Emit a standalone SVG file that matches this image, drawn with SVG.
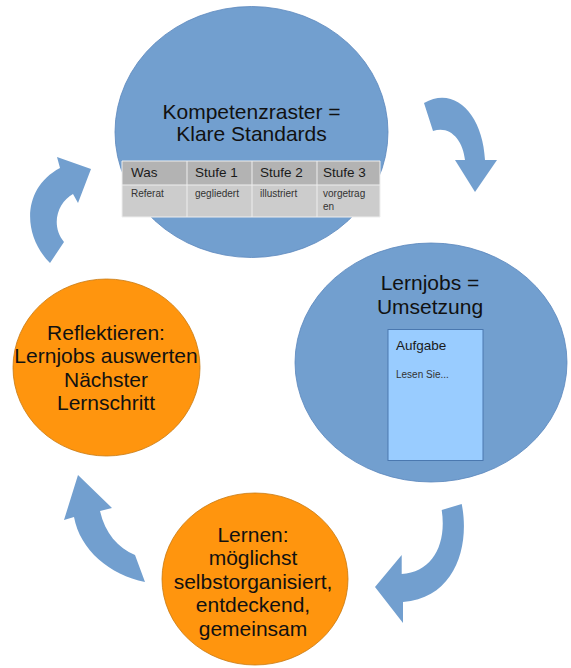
<svg xmlns="http://www.w3.org/2000/svg" width="571" height="668" viewBox="0 0 571 668">
<style>
.blue{fill:#729fcf;stroke:#5b87bd;stroke-width:0.8}
.orange{fill:#ff950e;stroke:#c8780f;stroke-width:0.8}
.arrow{fill:#729fcf;stroke:none}
.t{font-family:"Liberation Sans",Arial,sans-serif;fill:#111;text-anchor:middle;font-size:21px}
.th{font-family:"Liberation Sans",Arial,sans-serif;fill:#1a1a1a;font-size:13.5px}
.td{font-family:"Liberation Sans",Arial,sans-serif;fill:#333;font-size:10px}
.hdr{fill:#b3b3b3}
.body{fill:#cccccc}
.grid{stroke:#eeeeee;stroke-width:1;fill:none}
</style>
<rect width="571" height="668" fill="#ffffff"/>
<g id="kompetenzraster">
<ellipse class="blue" cx="251.5" cy="132" rx="136.5" ry="125.5"/>
<text class="t" x="251.5" y="119">Kompetenzraster =</text>
<text class="t" x="251.5" y="141">Klare Standards</text>
<g id="tabelle">
<rect class="hdr" x="122" y="161" width="258" height="24"/>
<rect class="body" x="122" y="185" width="258" height="32"/>
<path class="grid" d="M122,161H380V217H122Z M122,185H380 M187,161V217 M252,161V217 M317,161V217"/>
<text class="th" x="131" y="177">Was</text>
<text class="th" x="195" y="177">Stufe 1</text>
<text class="th" x="260" y="177">Stufe 2</text>
<text class="th" x="323" y="177">Stufe 3</text>
<text class="td" x="131" y="197">Referat</text>
<text class="td" x="195" y="197">gegliedert</text>
<text class="td" x="260" y="197">illustriert</text>
<text class="td" x="323" y="197">vorgetrag</text>
<text class="td" x="323" y="210">en</text>
</g>
</g>
<g id="lernjobs">
<ellipse class="blue" cx="431" cy="362.5" rx="136" ry="119.5"/>
<text class="t" x="430" y="290">Lernjobs =</text>
<text class="t" x="430" y="314">Umsetzung</text>
<rect x="388" y="329.5" width="95" height="131" fill="#99ccff" stroke="#4a78b0" stroke-width="1"/>
<text class="th" x="396" y="350">Aufgabe</text>
<text class="td" x="396" y="378">Lesen Sie...</text>
</g>
<g id="lernen">
<ellipse class="orange" cx="255" cy="579" rx="93" ry="86"/>
<text class="t" x="253" y="542">Lernen:</text>
<text class="t" x="253" y="565">möglichst</text>
<text class="t" x="253" y="588.5">selbstorganisiert,</text>
<text class="t" x="253" y="612">entdeckend,</text>
<text class="t" x="253" y="635.5">gemeinsam</text>
</g>
<g id="reflektieren">
<ellipse class="orange" cx="106.5" cy="367.5" rx="93.5" ry="88.5"/>
<text class="t" x="106" y="339.5">Reflektieren:</text>
<text class="t" x="106" y="363">Lernjobs auswerten</text>
<text class="t" x="106" y="386.5">Nächster</text>
<text class="t" x="106" y="410">Lernschritt</text>
</g>
<g id="connectors">
<path class="arrow" d="M424,103 C455,85 483,115 485,160 L497,160 L475,192 L455,160 L465,160 C463,140 450,125 433,131 Z"/>
<path class="arrow" d="M441.7,510 L461.7,504 C470,545 456,598 403,602 L403,623 L375,587 L401.7,555 L401.7,574 C432,572 447,545 441.7,510 Z"/>
<path class="arrow" d="M145,582 C110,575 80,550 74,517 L64,520 L78,475 L112,508 L100,511 C105,533 118,548 135,555 Z"/>
<path class="arrow" d="M50,263 C22,235 22,188 60,168 L57,157 L91,169 L78,203 L73,194 C58,202 50,225 64,242 Z"/>
</g>
</svg>
